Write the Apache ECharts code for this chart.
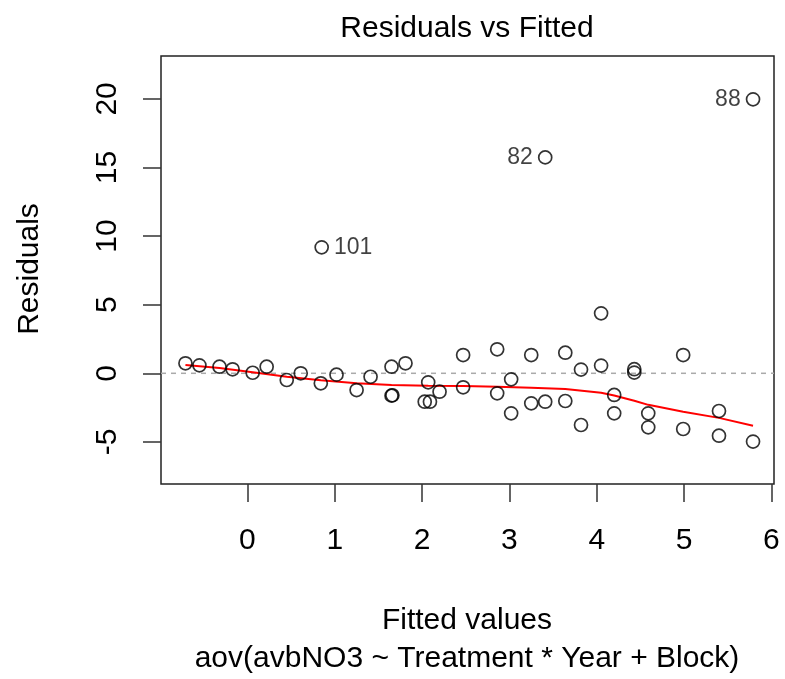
<!DOCTYPE html>
<html>
<head>
<meta charset="utf-8">
<script src="https://cdn.jsdelivr.net/npm/echarts@6/dist/echarts.min.js"></script>
<style>
html,body{margin:0;padding:0;background:#fff;}
#chart{width:785px;height:679px;}
</style>
</head>
<body>
<div id="chart"></div>
<script>
// Fitted values and residuals
const fittedVals = [-0.71,-0.55,-0.32,-0.17,0.06,0.22,0.45,0.61,0.84,0.85,1.02,1.25,1.41,1.65,1.81,1.65,1.66,2.07,2.20,2.03,2.09,2.47,2.47,2.86,2.86,3.02,3.02,3.25,3.25,3.41,3.41,3.64,3.64,3.82,3.82,4.05,4.05,4.20,4.20,4.43,4.43,4.59,4.59,4.99,4.99,5.40,5.40,5.79,5.79];
const residVals  = [0.73,0.58,0.48,0.29,0.04,0.48,-0.49,0.0,-0.73,9.18,-0.10,-1.22,-0.25,0.48,0.73,-1.63,-1.60,-0.66,-1.34,-2.07,-2.07,1.33,-1.02,1.75,-1.46,-0.44,-2.92,1.33,-2.19,-2.07,15.74,1.50,-2.02,0.27,-3.77,4.37,0.56,-1.58,-2.92,0.30,0.05,-2.92,-3.94,1.33,-4.06,-2.75,-4.55,-4.98,19.97];
// Labelled observations
const outlierIds = ['101','82','88'];
const outlierIndex = [9,30,48];
// Smoother (lowess) line
const smoothX = [-0.71,-0.32,0.06,0.45,0.84,1.25,1.65,2.07,2.47,2.86,3.25,3.64,4.05,4.20,4.43,4.59,4.99,5.40,5.79];
const smoothY = [0.60,0.38,0.08,-0.25,-0.50,-0.72,-0.85,-0.90,-0.93,-0.98,-1.05,-1.15,-1.42,-1.62,-2.00,-2.30,-2.80,-3.25,-3.82];
// Tick values
const xTicks = [0,1,2,3,4,5,6];
const yTicks = [-5,0,5,10,15,20];
const titleText = 'Residuals vs Fitted';
const xLabel = 'Fitted values';
const subLabel = 'aov(avbNO3 ~ Treatment * Year + Block)';
const yLabel = 'Residuals';

const FONT = "'Liberation Sans', Arial, sans-serif";
const xMin = -0.99, xMax = 6.03, yMin = -8.07, yMax = 23.13;
const xMid = (xMin + xMax) / 2;

const pts = fittedVals.map((x, i) => {
  const k = outlierIndex.indexOf(i);
  const item = { value: [x, residVals[i]] };
  if (k >= 0) {
    item.name = outlierIds[k];
    item.label = {
      show: true,
      formatter: outlierIds[k],
      position: x < xMid ? 'right' : 'left',
      distance: 5,
      fontSize: 23,
      fontFamily: FONT,
      color: '#111'
    };
  }
  return item;
});

const chart = echarts.init(document.getElementById('chart'), null, {renderer: 'canvas'});
chart.setOption({
  animation: false,
  backgroundColor: '#fff',
  grid: {left: 161, right: 11, top: 56, bottom: 195, show: true, borderColor: '#222', borderWidth: 1.5, backgroundColor: 'transparent'},
  xAxis: {
    type: 'value', min: xMin, max: xMax, position: 'bottom',
    axisLine: {show: false, onZero: false},
    splitLine: {show: false},
    axisTick: {show: true, inside: false, length: 18, lineStyle: {color: '#333', width: 1.5}, customValues: xTicks},
    axisLabel: {customValues: xTicks, fontSize: 30, fontFamily: FONT, color: '#000', margin: 42}
  },
  yAxis: {
    type: 'value', min: yMin, max: yMax, position: 'left',
    axisLine: {show: false, onZero: false},
    splitLine: {show: false},
    axisTick: {show: true, inside: false, length: 18, lineStyle: {color: '#333', width: 1.5}, customValues: yTicks},
    axisLabel: {customValues: yTicks, fontSize: 30, fontFamily: FONT, color: '#000', margin: 38, rotate: 90}
  },
  series: [
    {
      type: 'line',
      data: [[xMin, 0], [xMax, 0]],
      symbol: 'none',
      lineStyle: {color: '#aaaaaa', width: 1.5, type: [5, 5]},
      silent: true,
      z: 1
    },
    {
      type: 'line',
      data: smoothX.map((x, i) => [x, smoothY[i]]),
      symbol: 'none',
      smooth: false,
      lineStyle: {color: '#ff0000', width: 2},
      z: 2
    },
    {
      type: 'scatter',
      data: pts,
      symbol: 'circle',
      symbolSize: 13,
      itemStyle: {color: 'rgba(0,0,0,0)', borderColor: '#000', borderWidth: 1.7},
      z: 3
    }
  ],
  graphic: [
    {type: 'text', x: 467, y: 29, style: {text: titleText, fontSize: 30, fontFamily: FONT, fill: '#000', align: 'center', verticalAlign: 'middle'}},
    {type: 'text', x: 467, y: 621, style: {text: xLabel, fontSize: 30, fontFamily: FONT, fill: '#000', align: 'center', verticalAlign: 'middle'}},
    {type: 'text', x: 467, y: 659, style: {text: subLabel, fontSize: 30, fontFamily: FONT, fill: '#000', align: 'center', verticalAlign: 'middle'}},
    {type: 'text', x: 30, y: 269, rotation: Math.PI / 2, style: {text: yLabel, fontSize: 30, fontFamily: FONT, fill: '#000', align: 'center', verticalAlign: 'middle'}}
  ]
});
</script>
</body>
</html>
